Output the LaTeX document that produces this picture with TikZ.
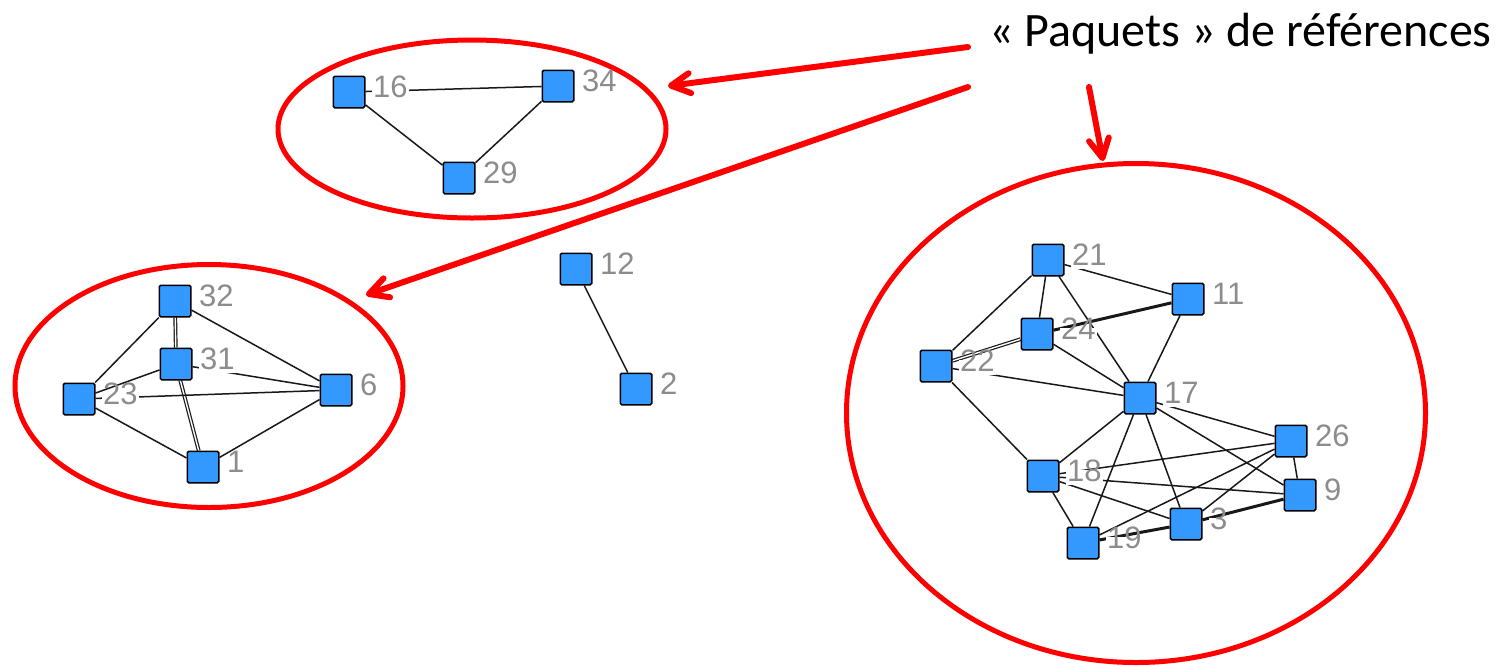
\documentclass[tikz,border=0pt]{standalone}
\usepackage{fontspec}
\setmainfont{Liberation Sans}
\newfontfamily\titlefont{Carlito}
\newfontfamily\labelfont{Liberation Sans}
\usetikzlibrary{arrows.meta,shapes.geometric}
\definecolor{nodeblue}{RGB}{51,153,255}
\definecolor{edgec}{RGB}{24,24,24}
\definecolor{labgray}{RGB}{140,140,140}
\definecolor{markred}{RGB}{255,0,0}
\pgfdeclarelayer{edges}
\pgfsetlayers{edges,main}
\tikzset{
  sq/.style={draw=black, line width=1.5pt, fill=nodeblue, minimum size=31.5pt,
             inner sep=0pt, rounded corners=1.5pt},
  lab/.style={fill=white, text=labgray, inner sep=1.5pt, anchor=base west,
              font=\labelfont\fontsize{31}{37}\selectfont,
              text height=0.95em, text depth=0.24em},
  edge/.style={draw=edgec, line width=1.5pt},
  heavy/.style={draw=edgec, line width=3pt},
  twin/.style={draw=edgec, line width=1.2pt, double=white, double distance=1.4pt},
  group/.style={ellipse, draw=markred, line width=5pt, inner sep=0pt},
  pointer/.style={draw=markred, line width=6pt, line cap=round,
                  -{Straight Barb[length=19pt, width=20pt, round]}},
}
\newcommand{\vertex}[3]{%
  \node[sq] (n#1) at (#2,#3) {};
  \node[lab] (l#1) at ([shift={(6,5)}]n#1.east) {#1};}
\begin{document}
\begin{tikzpicture}[x=1pt, y=-1pt]
\useasboundingbox (0,0) rectangle (1506,665);

% title
\node[font=\titlefont\fontsize{48}{57}\selectfont, anchor=base west, inner sep=0pt]
  (title) at (989,46) {« Paquets » de références};

% groups
\node[group, minimum width=388pt, minimum height=178pt] (g1) at (472,129) {};
\node[group, minimum width=388pt, minimum height=243pt] (g2) at (209,386) {};
\node[group, minimum width=579pt, minimum height=499pt] (g3) at (1136,413) {};

% vertices: top group
\vertex{16}{349}{92}
\vertex{34}{558}{86}
\vertex{29}{459}{178}
% left group
\vertex{32}{175}{301}
\vertex{31}{176}{364}
\vertex{23}{79}{399}
\vertex{6}{336}{390}
\vertex{1}{203}{467}
% isolated pair
\vertex{12}{576}{269}
\vertex{2}{636}{389}
% right group
\vertex{21}{1048}{260}
\vertex{11}{1188}{299}
\vertex{24}{1037}{334}
\vertex{22}{936}{366}
\vertex{17}{1140}{398}
\vertex{26}{1291}{441}
\vertex{18}{1043}{476}
\vertex{9}{1300}{495}
\vertex{3}{1186}{524}
\vertex{19}{1083}{543}

\begin{pgfonlayer}{edges}
  % top group
  \draw[edge] (n16) -- (n34);
  \draw[edge] (n16) -- (n29);
  \draw[edge] (n34) -- (n29);
  % left group
  \draw[twin] (n32) -- (n31);
  \draw[twin] (n31) -- (n1);
  \draw[edge] (n32) -- (n23);
  \draw[edge] (n32) -- (n6);
  \draw[edge] (n31) -- (n23);
  \draw[edge] (n31) -- (n6);
  \draw[edge] (n23) -- (n6);
  \draw[edge] (n23) -- (n1);
  \draw[edge] (n6) -- (n1);
  % pair
  \draw[edge] (n12) -- (n2);
  % right group
  \draw[edge] (n21) -- (n22);
  \draw[edge] (n21) -- (n24);
  \draw[edge] (n21) -- (n17);
  \draw[edge] (n21) -- (n11);
  \draw[heavy] (n24) -- (n11);
  \draw[twin] (n24) -- (n22);
  \draw[edge] (n24) -- (n17);
  \draw[edge] (n22) -- (n17);
  \draw[edge] (n22) -- (n18);
  \draw[edge] (n11) -- (n17);
  \draw[edge] (n17) -- (n18);
  \draw[edge] (n17) -- (n19);
  \draw[edge] (n17) -- (n3);
  \draw[edge] (n17) -- (n26);
  \draw[edge] (n17) -- (n9);
  \draw[edge] (n18) -- (n26);
  \draw[edge] (n18) -- (n9);
  \draw[edge] (n18) -- (n3);
  \draw[edge] (n18) -- (n19);
  \draw[heavy] (n19) -- (n3);
  \draw[edge] (n19) -- (n26);
  \draw[edge] (n3) -- (n26);
  \draw[heavy] (n3) -- (n9);
  \draw[edge] (n26) -- (n9);
\end{pgfonlayer}

% pointers from the caption to the groups
\coordinate (a1s) at (968,47);
\coordinate (a1e) at (668,86);
\coordinate (a2s) at (968,87);
\coordinate (a2e) at (366,295);
\coordinate (a3s) at (1089,87);
\coordinate (a3e) at (1103,161);
\draw[pointer] (a1s) -- (a1e);
\draw[pointer] (a2s) -- (a2e);
\draw[pointer] (a3s) -- (a3e);
\end{tikzpicture}
\end{document}
